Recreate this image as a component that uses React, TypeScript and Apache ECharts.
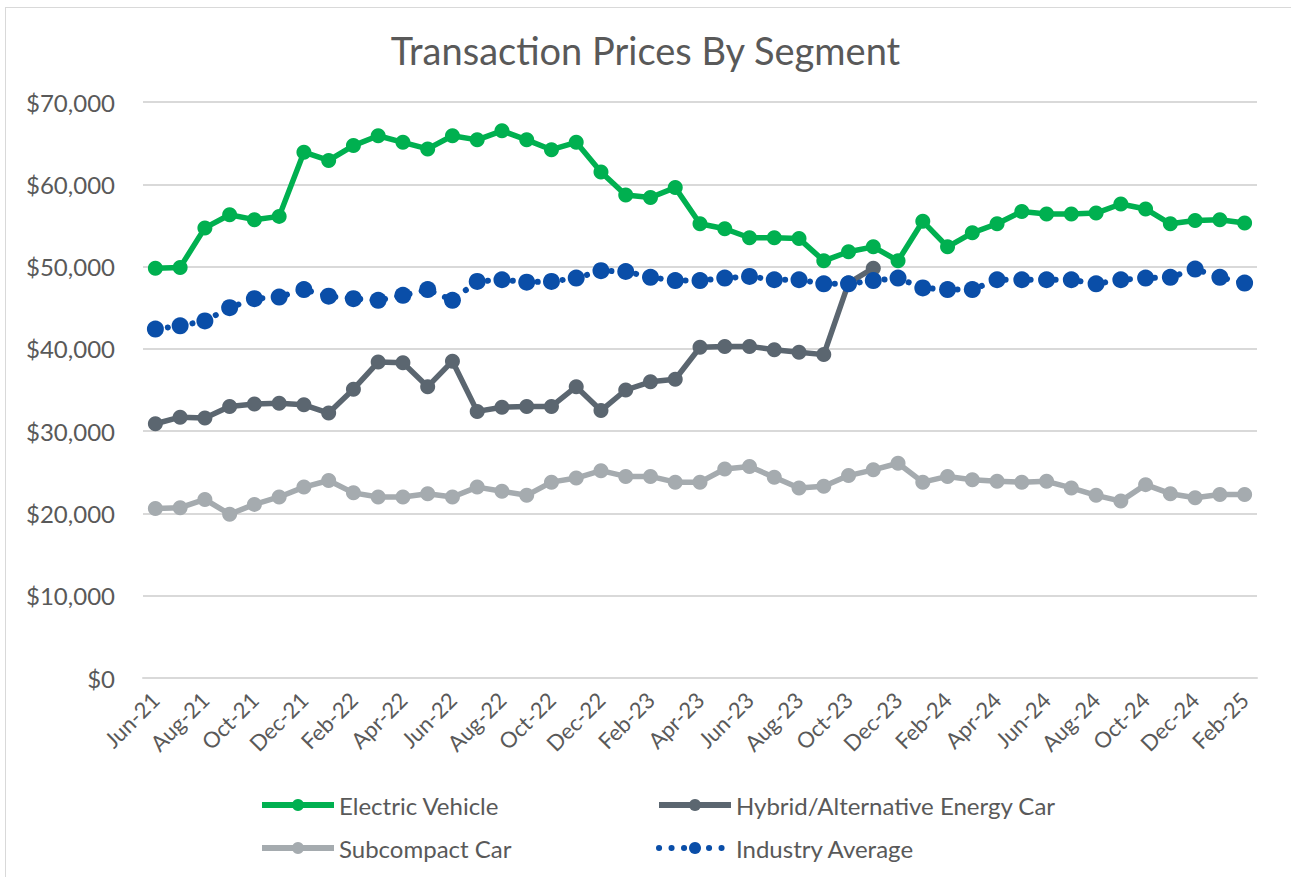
import React, { useEffect, useRef } from "react";
import * as echarts from "echarts";

const months = [
  "Jun-21","Jul-21","Aug-21","Sep-21","Oct-21","Nov-21","Dec-21","Jan-22","Feb-22","Mar-22","Apr-22","May-22",
  "Jun-22","Jul-22","Aug-22","Sep-22","Oct-22","Nov-22","Dec-22","Jan-23","Feb-23","Mar-23","Apr-23","May-23",
  "Jun-23","Jul-23","Aug-23","Sep-23","Oct-23","Nov-23","Dec-23","Jan-24","Feb-24","Mar-24","Apr-24","May-24",
  "Jun-24","Jul-24","Aug-24","Sep-24","Oct-24","Nov-24","Dec-24","Jan-25","Feb-25",
];

const electricVehicle = [
  49800, 49900, 54700, 56300, 55700, 56100, 63900, 62900, 64700, 65900, 65100, 64300,
  65900, 65400, 66500, 65400, 64200, 65100, 61500, 58700, 58400, 59600, 55200, 54600,
  53500, 53500, 53400, 50700, 51800, 52400, 50700, 55500, 52400, 54100, 55200, 56700,
  56400, 56400, 56500, 57600, 57000, 55200, 55600, 55700, 55300,
];

const hybrid: (number | null)[] = [
  30900, 31700, 31600, 33000, 33300, 33400, 33200, 32200, 35100, 38400, 38300, 35400,
  38500, 32400, 32900, 33000, 33000, 35400, 32500, 35000, 36000, 36300, 40200, 40300,
  40300, 39900, 39600, 39300, 48000, 49800, null, null, null, null, null, null,
  null, null, null, null, null, null, null, null, null,
];

const subcompact = [
  20600, 20700, 21700, 19900, 21100, 22000, 23200, 24000, 22500, 22000, 22000, 22400,
  22000, 23200, 22700, 22200, 23800, 24300, 25200, 24500, 24500, 23800, 23800, 25400,
  25700, 24400, 23100, 23300, 24600, 25300, 26100, 23800, 24500, 24100, 23900, 23800,
  23900, 23100, 22200, 21500, 23500, 22400, 21900, 22300, 22300,
];

const industryAverage = [
  42400, 42800, 43400, 45000, 46100, 46300, 47200, 46400, 46100, 45900, 46500, 47200,
  45900, 48200, 48400, 48100, 48200, 48600, 49500, 49400, 48700, 48300, 48300, 48600,
  48800, 48400, 48400, 47900, 47900, 48300, 48600, 47400, 47200, 47200, 48400, 48400,
  48400, 48400, 47900, 48400, 48600, 48700, 49700, 48700, 48000,
];

const seriesNames = ["Electric Vehicle", "Hybrid/Alternative Energy Car", "Subcompact Car", "Industry Average"];

const FONT = "Lato, 'Noto Sans', sans-serif";
const TEXT = "#595959";

export default function App() {
  const ref = useRef<HTMLDivElement>(null);
  useEffect(() => {
    if (!ref.current) return;
    const chart = echarts.init(ref.current, null, { renderer: "svg" });
    const solid = (name: string, data: (number | null)[], color: string) => ({
      name,
      type: "line",
      data,
      symbol: "circle",
      symbolSize: 15,
      showAllSymbol: true,
      itemStyle: { color },
      lineStyle: { color, width: 5.5 },
      connectNulls: false,
    });
    const legendItem = (name: string, left: number, top: number) => ({
      data: [name],
      left,
      top,
      itemWidth: 72,
      itemHeight: 15,
      lineStyle: { width: 6 },
      textStyle: { fontFamily: FONT, fontSize: 24, color: TEXT },
    });
    chart.setOption({
      animation: false,
      title: {
        text: "Transaction Prices By Segment",
        left: "center",
        top: 26,
        textStyle: { fontFamily: FONT, fontSize: 38, fontWeight: "normal", color: TEXT },
      },
      grid: { left: 143, right: 34, top: 102, bottom: 199, containLabel: false },
      legend: [
        legendItem(seriesNames[0], 254, 788),
        legendItem(seriesNames[1], 651, 788),
        legendItem(seriesNames[2], 254, 831),
        legendItem(seriesNames[3], 651, 831),
      ],
      xAxis: {
        type: "category",
        data: months,
        boundaryGap: true,
        axisLine: { lineStyle: { color: "#d9d9d9", width: 2 } },
        axisTick: { show: false },
        axisLabel: {
          interval: 1,
          rotate: 45,
          fontFamily: FONT,
          fontSize: 22,
          color: TEXT,
          margin: 18,
        },
      },
      yAxis: {
        type: "value",
        min: 0,
        max: 70000,
        interval: 10000,
        axisLine: { show: false },
        axisTick: { show: false },
        splitLine: { lineStyle: { color: "#d9d9d9", width: 2 } },
        axisLabel: {
          fontFamily: FONT,
          fontSize: 24,
          color: TEXT,
          margin: 28,
          formatter: (v: number) => "$" + v.toLocaleString("en-US"),
        },
      },
      series: [
        solid(seriesNames[0], electricVehicle, "#00b050"),
        solid(seriesNames[1], hybrid, "#5b6670"),
        solid(seriesNames[2], subcompact, "#a5abaf"),
        {
          name: seriesNames[3],
          type: "line",
          data: industryAverage,
          symbol: "circle",
          symbolSize: 17,
          showAllSymbol: true,
          itemStyle: { color: "#0a4ea8" },
          lineStyle: { color: "#0a4ea8", width: 6, type: [0.1, 12.4], cap: "round" },
        },
      ],
    });
    return () => chart.dispose();
  }, []);
  return (
    <div style={{ position: "fixed", left: 0, top: 0, width: 1291, height: 877, background: "#fff" }}>
      <div
        style={{
          position: "absolute",
          left: 5,
          top: 7,
          width: 1300,
          height: 900,
          border: "1px solid #d9d9d9",
          boxSizing: "border-box",
        }}
      />
      <div ref={ref} style={{ position: "absolute", left: 0, top: 0, width: 1291, height: 877 }} />
    </div>
  );
}
